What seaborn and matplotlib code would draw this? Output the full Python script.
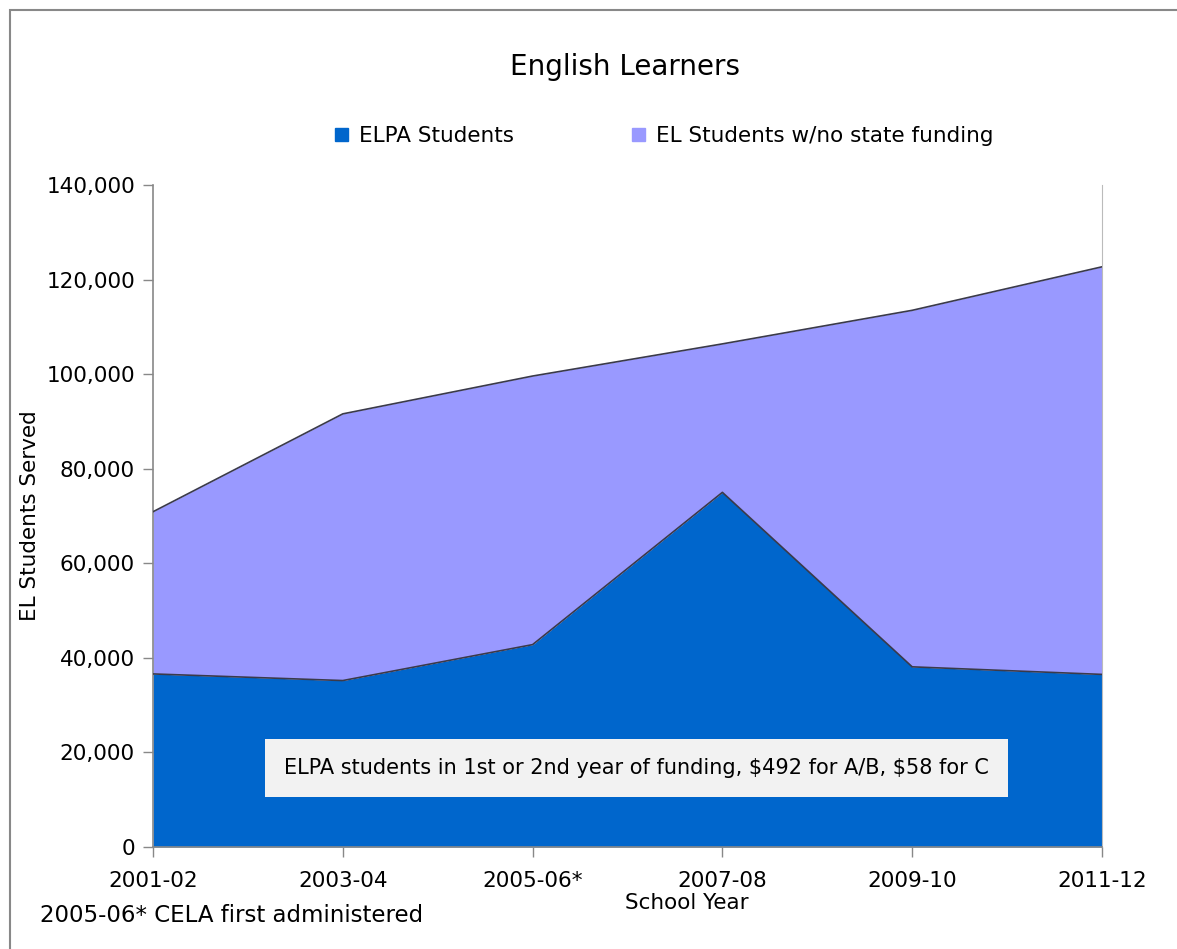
import matplotlib
matplotlib.use("Agg")
import matplotlib.pyplot as plt
import matplotlib.patches as mpatches
from matplotlib.ticker import FuncFormatter
import numpy as np
import pandas as pd
import seaborn as sns

# values
years = ["2001-02", "2003-04", "2005-06*", "2007-08", "2009-10", "2011-12"]
elpa_students = [36600, 35200, 42800, 75000, 38100, 36500]
el_total = [70900, 91600, 99600, 106400, 113500, 122700]

sns.set_style("white")
plt.rcParams["font.family"] = ["DejaVu Sans"]
plt.rcParams["text.color"] = "black"
plt.rcParams["xtick.labelcolor"] = "black"
plt.rcParams["ytick.labelcolor"] = "black"

df = pd.DataFrame({"year": years, "pos": np.arange(len(years)),
                   "elpa": elpa_students, "total": el_total})

fig = plt.figure(figsize=(11.77, 9.49), dpi=100)
ax = fig.add_axes([153 / 1177, 1 - 847 / 949, (1102 - 153) / 1177, (847 - 185) / 949])

blue = "#0066CC"
lav = "#9999FF"
ax.fill_between(df["pos"], 0, df["elpa"], color=blue, lw=0, zorder=2)
ax.fill_between(df["pos"], df["elpa"], df["total"], color=lav, lw=0, zorder=2)
sns.lineplot(data=df, x="pos", y="elpa", ax=ax, color="#3a3a4a", lw=1.2, zorder=3)
sns.lineplot(data=df, x="pos", y="total", ax=ax, color="#3a3a4a", lw=1.2, zorder=3)

ax.set_xlim(0, len(years) - 1)
ax.set_ylim(0, 140000)
ax.set_yticks(range(0, 140001, 20000))
ax.yaxis.set_major_formatter(FuncFormatter(lambda v, p: f"{int(v):,}"))
ax.set_xticks(df["pos"])
ax.set_xticklabels(years)
ax.tick_params(axis="both", labelsize=15.5, length=7, width=1, color="#888888",
               labelcolor="black", direction="out", bottom=True, left=True)
ax.tick_params(axis="x", pad=10)
ax.tick_params(axis="y", pad=6)
for s in ["left", "bottom"]:
    ax.spines[s].set_color("#888888")
    ax.spines[s].set_linewidth(1.2)
ax.spines["right"].set_color("#bbbbbb")
ax.spines["top"].set_visible(False)

ax.set_xlabel("")
ax.set_ylabel("")
fig.text(30 / 1177, 1 - 516 / 949, "EL Students Served", fontsize=15.5, rotation=90,
         ha="center", va="center")
fig.text(687 / 1177, 1 - 903 / 949, "School Year", fontsize=15.5, ha="center", va="center")
fig.text(40 / 1177, 1 - 916 / 949, "2005-06* CELA first administered", fontsize=16.5,
         ha="left", va="center")

fig.text(625 / 1177, 1 - 67 / 949, "English Learners", fontsize=20, ha="center", va="center")

handles = [mpatches.Patch(color=blue, label="ELPA Students"),
           mpatches.Patch(color=lav, label="EL Students w/no state funding")]
fig.legend(handles=handles, loc="center", bbox_to_anchor=(664 / 1177, 1 - 136 / 949),
           ncol=2, frameon=False, fontsize=15.5, handlelength=0.6, handleheight=0.6,
           columnspacing=5.5, handletextpad=0.5)

ax.text(0.5 * (257 + 1016) / 1177, 1 - 768 / 949,
        "ELPA students in 1st or 2nd year of funding, \\$492 for A/B, \\$58 for C",
        transform=fig.transFigure, fontsize=15, ha="center", va="center", zorder=5,
        bbox=dict(boxstyle="square,pad=0.9", facecolor="#F2F2F2", edgecolor="none"))

fig.patches.append(mpatches.Rectangle((10 / 1177, -0.05), 1.1, 1 - 10 / 949 + 0.05,
                                      transform=fig.transFigure, fill=False,
                                      edgecolor="#888888", lw=1.5))

fig.savefig("out.png", dpi=100)
